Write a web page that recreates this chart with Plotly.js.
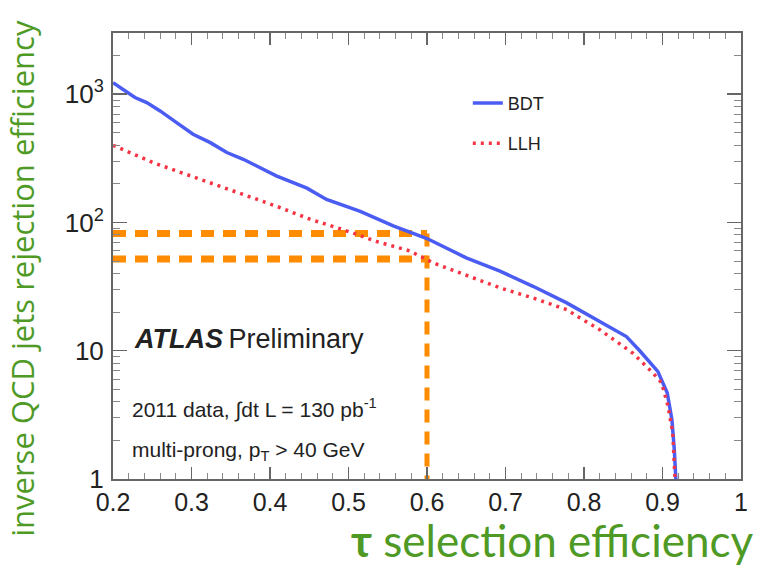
<!DOCTYPE html>
<html>
<head>
<meta charset="utf-8">
<script src="https://cdn.plot.ly/plotly-3.0.1.min.js"></script>
<style>html,body{margin:0;padding:0;background:#fff}</style>
</head>
<body>
<div id="chart" style="width:760px;height:566px"></div>
<script>
// BDT curve: tau selection efficiency vs inverse QCD jet rejection
const bdtEff = [0.2, 0.228, 0.243, 0.26, 0.281, 0.302, 0.324, 0.345, 0.366, 0.387, 0.408, 0.447, 0.472, 0.515, 0.557, 0.6, 0.65, 0.693, 0.735, 0.778, 0.816, 0.854, 0.871, 0.894, 0.906, 0.912, 0.915, 0.917];
const bdtRej = [1230, 942, 861, 741, 601, 487, 419, 351, 311, 267, 231, 185, 151, 122, 94, 75, 53, 41.7, 31.8, 23.6, 17.5, 12.9, 10, 6.9, 4.7, 2.9, 1.7, 1];
// LLH curve
const llhEff = [0.2, 0.222, 0.251, 0.281, 0.311, 0.341, 0.37, 0.408, 0.451, 0.493, 0.536, 0.578, 0.608, 0.65, 0.693, 0.735, 0.778, 0.795, 0.82, 0.862, 0.888, 0.899, 0.907, 0.913, 0.916];
const llhRej = [400, 350, 293, 252, 217, 185, 160, 134, 106, 88, 71, 60, 48.4, 39, 30.9, 25.8, 20.9, 18, 14.6, 9.6, 6.7, 5.6, 3.7, 2.3, 1];
// working point markers
const wpEff = 0.6;
const wpBdtRej = 82;
const wpLlhRej = 52;
const xMin = 0.2;
const yMin = 1;
// tick labels
const xTickVals = [0.2, 0.3, 0.4, 0.5, 0.6, 0.7, 0.8, 0.9, 1];
const xTickText = ['0.2', '0.3', '0.4', '0.5', '0.6', '0.7', '0.8', '0.9', '1'];
const yTickVals = [1, 10, 100, 1000];
const yTickText = ['1', '10', '10<sup>2</sup>', '10<sup>3</sup>'];
const yMinorVals = [2,3,4,5,6,7,8,9,20,30,40,50,60,70,80,90,200,300,400,500,600,700,800,900,2000,3000];

const orange = '#ff8c00';
const green = '#4f9a25';
const font = 'Liberation Sans, Arial, sans-serif';

const traces = [
  {x: [xMin, wpEff], y: [wpBdtRej, wpBdtRej], mode: 'lines', showlegend: false, hoverinfo: 'skip',
   line: {color: orange, width: 7, dash: '13px,9px'}},
  {x: [xMin, wpEff], y: [wpLlhRej, wpLlhRej], mode: 'lines', showlegend: false, hoverinfo: 'skip',
   line: {color: orange, width: 7, dash: '13px,9px'}},
  {x: [wpEff, wpEff], y: [wpBdtRej, yMin], mode: 'lines', showlegend: false, hoverinfo: 'skip',
   line: {color: orange, width: 5, dash: '13px,9px'}},
  {x: bdtEff, y: bdtRej, mode: 'lines', name: 'BDT', legendgroup: 'a',
   line: {color: '#4b5cf2', width: 3.5}},
  {x: llhEff, y: llhRej, mode: 'lines', name: 'LLH', legendgroup: 'b',
   line: {color: '#f43444', width: 3.5, dash: '3px,5px'}}
];

const layout = {
  width: 760, height: 566,
  margin: {l: 113, r: 19, t: 33, b: 87},
  paper_bgcolor: '#fff', plot_bgcolor: '#fff',
  font: {family: font, color: '#222'},
  xaxis: {
    range: [0.2, 1], tickmode: 'array', tickvals: xTickVals, ticktext: xTickText,
    ticks: 'inside', ticklen: 12, tickwidth: 1.5, tickcolor: '#666',
    minor: {dtick: 0.02, tick0: 0.2, ticks: 'inside', ticklen: 6, tickcolor: '#888', tickwidth: 1},
    showline: true, linecolor: '#666', linewidth: 2, mirror: 'ticks',
    showgrid: false, zeroline: false,
    tickfont: {size: 25, family: font, color: '#222'},
    ticklabelstandoff: 0
  },
  yaxis: {
    type: 'log', range: [0, Math.log10(3000)],
    tickmode: 'array', tickvals: yTickVals, ticktext: yTickText,
    ticks: 'inside', ticklen: 14, tickwidth: 1.5, tickcolor: '#666',
    minor: {tickmode: 'array', tickvals: yMinorVals, ticks: 'inside', ticklen: 7, tickcolor: '#888', tickwidth: 1},
    showline: true, linecolor: '#666', linewidth: 2, mirror: 'ticks',
    showgrid: false, zeroline: false,
    tickfont: {size: 26, family: font, color: '#222'},
    ticklabelstandoff: 2
  },
  showlegend: true,
  legend: {x: 0.565, y: 0.884, xanchor: 'left', yanchor: 'top', bgcolor: 'rgba(0,0,0,0)',
    font: {size: 18, family: font, color: '#222'}, tracegroupgap: 14, itemwidth: 30},
  annotations: [
    {xref: 'paper', yref: 'paper', x: -0.145, y: 0.451, xanchor: 'center', yanchor: 'middle', showarrow: false, textangle: -90,
     text: 'inverse QCD jets rejection efficiency', font: {size: 31, family: 'Open Sans, sans-serif', color: green}},
    {xref: 'paper', yref: 'paper', x: 1.02, y: -0.1375, xanchor: 'right', yanchor: 'middle', showarrow: false, borderpad: 0,
     text: '<b>τ</b> selection efficiency', font: {size: 44, family: 'Lato, sans-serif', color: green}},
    {xref: 'paper', yref: 'paper', x: 0.03, y: 0.314, xanchor: 'left', yanchor: 'middle', showarrow: false,
     text: '<b><i>ATLAS</i></b>\u2009Preliminary', font: {size: 27, family: font, color: '#222'}},
    {xref: 'paper', yref: 'paper', x: 0.027, y: 0.159, xanchor: 'left', yanchor: 'middle', showarrow: false,
     text: '2011 data, ∫dt L = 130 pb<sup>-1</sup>', font: {size: 21, family: font, color: '#222'}},
    {xref: 'paper', yref: 'paper', x: 0.027, y: 0.063, xanchor: 'left', yanchor: 'middle', showarrow: false,
     text: 'multi-prong, p<sub>T</sub> > 40 GeV', font: {size: 21, family: font, color: '#222'}}
  ]
};

Plotly.newPlot('chart', traces, layout, {displayModeBar: false, staticPlot: true});
</script>
</body>
</html>
